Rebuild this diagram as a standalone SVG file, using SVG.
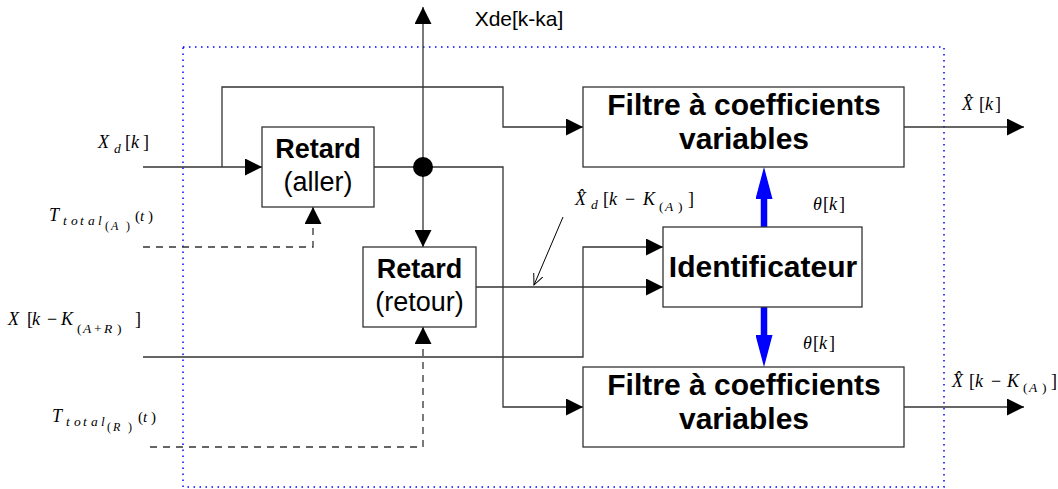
<svg xmlns="http://www.w3.org/2000/svg" width="1058" height="489" viewBox="0 0 1058 489">
<style>
.ln{stroke:#333;stroke-width:1.3;fill:none}
.dash{stroke:#333;stroke-width:1.3;fill:none;stroke-dasharray:7 6}
.box{fill:#fff;stroke:#333;stroke-width:1.3}
.frame{fill:none;stroke:#0000ff;stroke-width:1.5;stroke-dasharray:1.5 4.5}
.blue{stroke:#0000ff;stroke-width:6.5;fill:none}
.tb{font-family:"Liberation Sans",Arial,sans-serif;font-weight:bold;fill:#000;text-anchor:middle}
.tr{font-family:"Liberation Sans",Arial,sans-serif;fill:#000;text-anchor:middle}
.m{font-family:"Liberation Serif","Times New Roman",serif;fill:#000;font-size:18px}
.i{font-style:italic}
.s{font-size:13.5px}
.ss{font-size:12px}
.p{font-size:15px}
</style>
<defs>
<marker id="ah" markerUnits="userSpaceOnUse" markerWidth="17" markerHeight="17" refX="17" refY="8.5" orient="auto">
<path d="M0,0 L17,8.5 L0,17 z" fill="#000"/>
</marker>
<marker id="bh" markerUnits="userSpaceOnUse" markerWidth="32" markerHeight="17" refX="0" refY="8.5" orient="auto">
<path d="M0,0 L32,8.5 L0,17 z" fill="#0000ff"/>
</marker>
<marker id="oh" markerUnits="userSpaceOnUse" markerWidth="12" markerHeight="10" refX="11" refY="5" orient="auto">
<path d="M0,0 L11,5 L0,10" fill="none" stroke="#000" stroke-width="1"/>
</marker>
</defs>
<rect class="frame" x="183" y="47" width="761" height="440"/>
<g id="connectors">
<path class="ln" d="M143,167 H262" marker-end="url(#ah)"/>
<path class="ln" d="M222,167 V87 H503 V127 H583" marker-end="url(#ah)"/>
<path class="ln" d="M374,167 H503 V407 H583" marker-end="url(#ah)"/>
<path class="ln" d="M423,167 V7" marker-end="url(#ah)"/>
<path class="ln" d="M423,167 V247" marker-end="url(#ah)"/>
<path class="ln" d="M476,287 H663" marker-end="url(#ah)"/>
<path class="ln" d="M143,357 H583 V247 H663" marker-end="url(#ah)"/>
<path class="dash" d="M143,247 H313 V207" marker-end="url(#ah)"/>
<path class="dash" d="M150,447 H423 V327" marker-end="url(#ah)"/>
<path class="ln" d="M904,127 H1024" marker-end="url(#ah)"/>
<path class="ln" d="M904,407 H1024" marker-end="url(#ah)"/>
<path class="blue" d="M764,227 V199" marker-end="url(#bh)"/>
<path class="blue" d="M764,307 V335" marker-end="url(#bh)"/>
<path d="M563,217 L534,285" stroke="#000" stroke-width="1" fill="none" marker-end="url(#oh)"/>
<circle cx="423" cy="167" r="10" fill="#000"/>
</g>
<g id="retard-aller">
<rect class="box" x="262" y="127" width="112" height="80"/>
<text class="tb" x="318" y="158" font-size="27">Retard</text>
<text class="tr" x="318" y="191" font-size="27">(aller)</text>
</g>
<g id="retard-retour">
<rect class="box" x="363" y="247" width="113" height="80"/>
<text class="tb" x="419.5" y="278" font-size="27">Retard</text>
<text class="tr" x="419.5" y="311" font-size="27">(retour)</text>
</g>
<g id="filtre-haut">
<rect class="box" x="583" y="87" width="321" height="80"/>
<text class="tb" x="744" y="115" font-size="30">Filtre à coefficients</text>
<text class="tb" x="744" y="149" font-size="30">variables</text>
</g>
<g id="identificateur">
<rect class="box" x="663" y="227" width="199" height="80"/>
<text class="tb" x="763" y="277" font-size="30">Identificateur</text>
</g>
<g id="filtre-bas">
<rect class="box" x="583" y="367" width="321" height="80"/>
<text class="tb" x="744" y="395" font-size="30">Filtre à coefficients</text>
<text class="tb" x="744" y="429" font-size="30">variables</text>
</g>
<g id="labels">
<text class="tr" x="519" y="26" font-size="21">Xde[k-ka]</text>
<text class="m"><tspan class="i" x="98" y="148">X</tspan><tspan class="i s" x="114" y="153">d</tspan><tspan x="125" y="148">[</tspan><tspan class="i" x="131" y="148">k</tspan><tspan x="143" y="148">]</tspan></text>
<text class="m"><tspan class="i" x="49" y="221">T</tspan><tspan class="i s" x="63 71 80 88 98" y="225">total</tspan><tspan class="ss" x="105" y="230">(</tspan><tspan class="i ss" x="111" y="230">A</tspan><tspan class="ss" x="126" y="230">)</tspan><tspan class="p" x="135" y="221">(</tspan><tspan class="i p" x="140" y="221">t</tspan><tspan class="p" x="148" y="221">)</tspan></text>
<text class="m"><tspan class="i" x="8" y="325">X</tspan><tspan x="27" y="325">[</tspan><tspan class="i" x="32" y="325">k</tspan><tspan x="47" y="325">−</tspan><tspan class="i" x="61" y="325">K</tspan><tspan class="s" x="77" y="333">(</tspan><tspan class="i s" x="83" y="333">A</tspan><tspan class="s" x="94" y="333">+</tspan><tspan class="i s" x="104" y="333">R</tspan><tspan class="s" x="117" y="333">)</tspan><tspan x="135" y="325">]</tspan></text>
<text class="m"><tspan class="i" x="52" y="422">T</tspan><tspan class="i s" x="66 74 83 91 101" y="426">total</tspan><tspan class="ss" x="107" y="431">(</tspan><tspan class="i ss" x="113" y="431">R</tspan><tspan class="ss" x="128" y="431">)</tspan><tspan class="p" x="138" y="422">(</tspan><tspan class="i p" x="143" y="422">t</tspan><tspan class="p" x="151" y="422">)</tspan></text>
<text class="m"><tspan class="i" x="575" y="205">X̂</tspan><tspan class="i s" x="591" y="209">d</tspan><tspan x="603" y="205">[</tspan><tspan class="i" x="609" y="205">k</tspan><tspan x="625" y="205">−</tspan><tspan class="i" x="643" y="205">K</tspan><tspan class="s" x="659" y="211">(</tspan><tspan class="i s" x="665" y="211">A</tspan><tspan class="s" x="678" y="211">)</tspan><tspan x="688" y="205">]</tspan></text>
<text class="m"><tspan class="i" x="813" y="210">θ</tspan><tspan x="823" y="210">[</tspan><tspan class="i" x="829" y="210">k</tspan><tspan x="839" y="210">]</tspan></text>
<text class="m"><tspan class="i" x="803" y="349">θ</tspan><tspan x="813" y="349">[</tspan><tspan class="i" x="819" y="349">k</tspan><tspan x="829" y="349">]</tspan></text>
<text class="m"><tspan class="i" x="962" y="110">X̂</tspan><tspan x="979" y="110">[</tspan><tspan class="i" x="985" y="110">k</tspan><tspan x="995" y="110">]</tspan></text>
<text class="m"><tspan class="i" x="952" y="387">X̂</tspan><tspan x="969" y="387">[</tspan><tspan class="i" x="975" y="387">k</tspan><tspan x="991" y="387">−</tspan><tspan class="i" x="1007" y="387">K</tspan><tspan class="s" x="1023" y="392">(</tspan><tspan class="i s" x="1029" y="392">A</tspan><tspan class="s" x="1042" y="392">)</tspan><tspan x="1051" y="387">]</tspan></text>
</g>
</svg>
